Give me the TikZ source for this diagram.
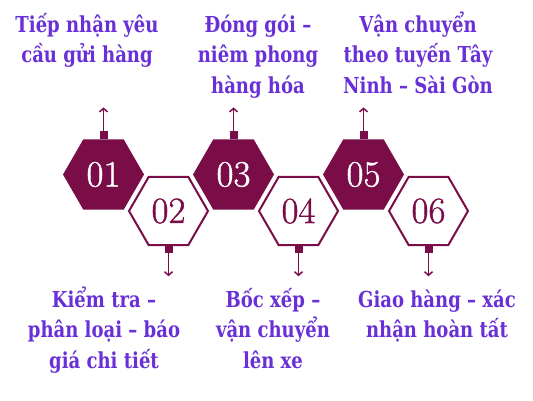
\documentclass[tikz,border=0pt]{standalone}
\usepackage{fontspec}
\setmainfont{Latin Modern Roman}
\newfontfamily\labelfont[FakeStretch=0.82]{DejaVu Serif}
\newfontfamily\numfont[FakeBold=1]{Latin Modern Roman}
\usetikzlibrary{shapes.geometric,arrows.meta}
\definecolor{maroon}{RGB}{122,12,72}
\definecolor{violet}{RGB}{104,48,214}
\tikzset{
  hexfill/.style={regular polygon, regular polygon sides=6,
    minimum size=81pt, inner sep=0pt, outer sep=0pt, fill=maroon, draw=none,
    text=white, font=\numfont\fontsize{37}{40}\selectfont},
  hexout/.style={regular polygon, regular polygon sides=6,
    minimum size=79pt, inner sep=0pt, outer sep=1pt, fill=white, draw=maroon, line width=2pt,
    text=maroon, font=\numfont\fontsize{37}{40}\selectfont},
  sqbox/.style={fill=maroon, minimum width=8pt, minimum height=8pt, inner sep=0pt, outer sep=0pt},
  arr/.style={draw=maroon, line width=1.7pt, -{Straight Barb[length=3.5pt,width=8pt,line width=1.5pt]}},
  lbl/.style={text=violet, align=center, font=\labelfont\bfseries\fontsize{22}{30.5}\selectfont}
}
\begin{document}
\begin{tikzpicture}[x=1pt,y=1pt]
\useasboundingbox (0,0) rectangle (533,-400);
% hexagons
\node[hexfill] (h1) at (103.5,-174.5) {01};
\node[hexout]  (h2) at (168.5,-211) {02};
\node[hexfill] (h3) at (233.5,-174.5) {03};
\node[hexout]  (h4) at (298.5,-211) {04};
\node[hexfill] (h5) at (363.5,-174.5) {05};
\node[hexout]  (h6) at (428.5,-211) {06};
% connectors
\foreach \i in {1,3,5}{
  \node[sqbox, anchor=south] (s\i) at (h\i.north) {};
  \coordinate (a\i) at ([yshift=24pt]s\i.north);
  \draw[arr] (s\i.north) -- (a\i);
}
\foreach \i in {2,4,6}{
  \node[sqbox, anchor=north] (s\i) at ([yshift=1pt]h\i.south) {};
  \coordinate (a\i) at ([yshift=-23pt]s\i.south);
  \draw[arr] (s\i.south) -- (a\i);
}
% labels (anchor=base is the baseline of the last line)
\node[lbl, anchor=base] (t1) at (87,-62.5) {Tiếp nhận yêu\\cầu gửi hàng};
\node[lbl, anchor=base] (t3) at (258,-93) {Đóng gói –\\niêm phong\\hàng hóa};
\node[lbl, anchor=base] (t5) at (418,-93) {Vận chuyển\\theo tuyến Tây\\Ninh – Sài Gòn};
\node[lbl, anchor=base] (t2) at (104,-368) {Kiểm tra –\\phân loại – báo\\giá chi tiết};
\node[lbl, anchor=base] (t4) at (273,-368) {Bốc xếp –\\vận chuyển\\lên xe};
\node[lbl, anchor=base] (t6) at (437,-337.5) {Giao hàng – xác\\nhận hoàn tất};
\end{tikzpicture}
\end{document}
